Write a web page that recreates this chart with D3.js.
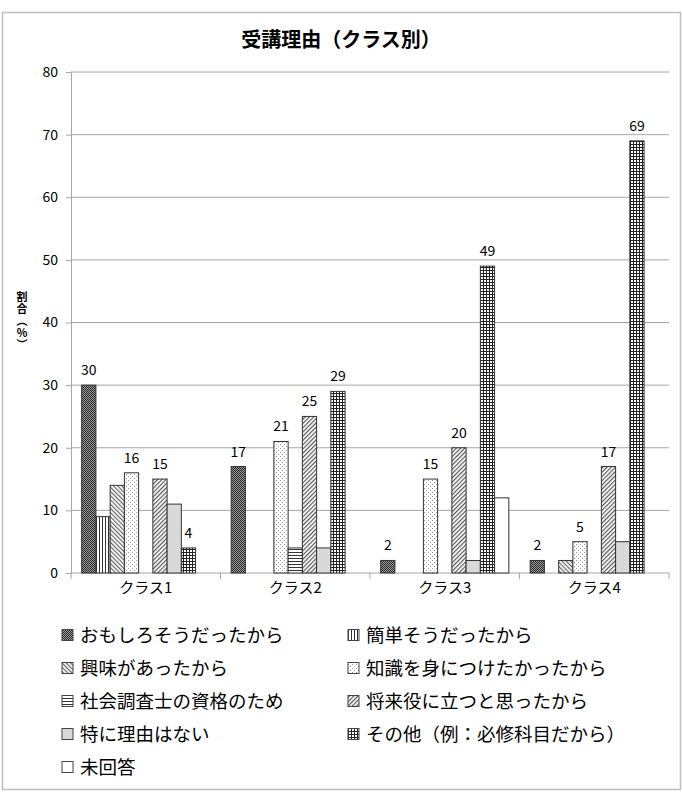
<!DOCTYPE html>
<html>
<head>
<meta charset="utf-8">
<script src="https://cdn.jsdelivr.net/npm/d3@7"></script>
<style>
  body { margin: 0; background: #fff; }
  text { font-family: "Noto Sans CJK JP", "Noto Sans", sans-serif; }
</style>
</head>
<body>
<div id="container"></div>
<script>
/* CONSTANTS AND GLOBALS */
const width = 682,
  height = 796,
  margin = { top: 72, bottom: 223, left: 71, right: 13 };

/* DATA */
const classes = ["クラス1", "クラス2", "クラス3", "クラス4"];
const reasons = [
  "おもしろそうだったから", "簡単そうだったから", "興味があったから",
  "知識を身につけたかったから", "社会調査士の資格のため", "将来役に立つと思ったから",
  "特に理由はない", "その他（例：必修科目だから）", "未回答"
];
const omoshiro = [30, 17, 2, 2];
const kantan = [9, 0, 0, 0];
const kyoumi = [14, 0, 0, 2];
const chishiki = [16, 21, 15, 5];
const shakai = [0, 4, 0, 0];
const shourai = [15, 25, 20, 17];
const tokuni = [11, 4, 2, 5];
const sonota = [4, 29, 49, 69];
const mikaitou = [0, 0, 12, 0];
const seriesValues = [omoshiro, kantan, kyoumi, chishiki, shakai, shourai, tokuni, sonota, mikaitou];
const labelled = [0, 3, 5, 7]; // series that carry data labels
const yTicks = [0, 10, 20, 30, 40, 50, 60, 70, 80];

const data = [];
classes.forEach((c, ci) => {
  seriesValues.forEach((vals, si) => {
    data.push({ cls: c, series: si, value: vals[ci] });
  });
});

/* SVG */
const svg = d3.select("#container")
  .append("svg")
  .attr("width", width)
  .attr("height", height);

// patterns
const defs = svg.append("defs");
function pat(id, w, h, rot) {
  const p = defs.append("pattern")
    .attr("id", id)
    .attr("patternUnits", "userSpaceOnUse")
    .attr("width", w).attr("height", h);
  if (rot) p.attr("patternTransform", `rotate(${rot})`);
  return p;
}
let p = pat("p0", 2, 2);
p.append("rect").attr("width", 2).attr("height", 2).attr("fill", "#9a9a9a");
p.append("rect").attr("width", 1).attr("height", 1).attr("fill", "#2a2a2a");
p.append("rect").attr("x", 1).attr("y", 1).attr("width", 1).attr("height", 1).attr("fill", "#2a2a2a");

p = pat("p1", 3, 3);
p.append("rect").attr("width", 3).attr("height", 3).attr("fill", "#fff");
p.append("rect").attr("width", 1).attr("height", 3).attr("fill", "#333");

p = pat("p2", 3, 3, -45);
p.append("rect").attr("width", 3).attr("height", 3).attr("fill", "#fff");
p.append("rect").attr("width", 1.2).attr("height", 3).attr("fill", "#666");

p = pat("p3", 4, 4);
p.append("rect").attr("width", 4).attr("height", 4).attr("fill", "#fff");
p.append("rect").attr("width", 1).attr("height", 1).attr("fill", "#999");
p.append("rect").attr("x", 2).attr("y", 2).attr("width", 1).attr("height", 1).attr("fill", "#999");

p = pat("p4", 3, 3);
p.append("rect").attr("width", 3).attr("height", 3).attr("fill", "#fff");
p.append("rect").attr("width", 3).attr("height", 1).attr("fill", "#333");

p = pat("p5", 3, 3, 45);
p.append("rect").attr("width", 3).attr("height", 3).attr("fill", "#fff");
p.append("rect").attr("width", 1.2).attr("height", 3).attr("fill", "#555");

p = pat("p7", 3, 3);
p.append("rect").attr("width", 3).attr("height", 3).attr("fill", "#fff");
p.append("rect").attr("width", 1).attr("height", 3).attr("fill", "#222");
p.append("rect").attr("width", 3).attr("height", 1).attr("fill", "#222");

const fills = ["url(#p0)", "url(#p1)", "url(#p2)", "url(#p3)", "url(#p4)", "url(#p5)", "#d9d9d9", "url(#p7)", "#fff"];

// outer frame
svg.append("rect")
  .attr("x", 2.5).attr("y", 12.5)
  .attr("width", 678).attr("height", 777)
  .attr("fill", "#fff")
  .attr("stroke", "#bfbfbf")
  .attr("stroke-width", 1.5);

/* SCALES */
const yScale = d3.scaleLinear()
  .domain([0, 80])
  .range([height - margin.bottom, margin.top]);

const xScale = d3.scaleBand()
  .domain(classes)
  .range([margin.left, width - margin.right]);

const barW = xScale.bandwidth() / 10.5;
const xInner = d3.scaleBand()
  .domain(d3.range(reasons.length))
  .range([barW * 0.75, xScale.bandwidth() - barW * 0.75]);

// gridlines
svg.append("g")
  .selectAll("line")
  .data(yTicks.slice(1))
  .join("line")
  .attr("x1", margin.left).attr("x2", width - margin.right)
  .attr("y1", d => yScale(d)).attr("y2", d => yScale(d))
  .attr("stroke", "#a6a6a6");

// axes
const yAxis = svg.append("g")
  .attr("transform", `translate(${margin.left},0)`)
  .call(d3.axisLeft(yScale).tickValues(yTicks).tickSize(5).tickPadding(8));
yAxis.selectAll("line, path").attr("stroke", "#a6a6a6");
yAxis.selectAll("text").attr("font-family", "'Noto Sans', sans-serif").attr("font-size", 14).attr("fill", "#000");

const xAxis = svg.append("g")
  .attr("transform", `translate(0,${yScale(0)})`)
  .call(d3.axisBottom(xScale).tickSize(0).tickPadding(9));
xAxis.select("path").remove();
xAxis.selectAll("text").attr("font-size", 15).attr("fill", "#000");
svg.append("g")
  .selectAll("line")
  .data([margin.left, ...classes.map(c => xScale(c) + xScale.bandwidth())])
  .join("line")
  .attr("x1", d => d).attr("x2", d => d)
  .attr("y1", yScale(0)).attr("y2", yScale(0) + 6)
  .attr("stroke", "#a6a6a6");
svg.append("line")
  .attr("x1", margin.left).attr("x2", width - margin.right)
  .attr("y1", yScale(0)).attr("y2", yScale(0))
  .attr("stroke", "#a6a6a6");

// bars
svg.append("g")
  .selectAll("rect")
  .data(data.filter(d => d.value > 0))
  .join("rect")
  .attr("x", d => xScale(d.cls) + xInner(d.series))
  .attr("y", d => yScale(d.value))
  .attr("width", xInner.bandwidth())
  .attr("height", d => yScale(0) - yScale(d.value))
  .attr("fill", d => fills[d.series])
  .attr("stroke", "#333")
  .attr("stroke-width", 1);

// data labels
svg.append("g")
  .selectAll("text")
  .data(data.filter(d => d.value > 0 && labelled.includes(d.series)))
  .join("text")
  .attr("x", d => xScale(d.cls) + xInner(d.series) + xInner.bandwidth() / 2)
  .attr("y", d => yScale(d.value) - 10)
  .attr("text-anchor", "middle")
  .attr("font-family", "'Noto Sans', sans-serif")
  .attr("font-size", 14)
  .text(d => d.value);

// title
svg.append("text")
  .attr("x", 341).attr("y", 47)
  .attr("text-anchor", "middle")
  .attr("font-size", 20)
  .attr("font-weight", "bold")
  .text("受講理由（クラス別）");

// y axis title, vertical writing
svg.append("text")
  .attr("x", 22)
  .attr("y", 321)
  .attr("text-anchor", "middle")
  .style("writing-mode", "vertical-rl")
  .style("text-orientation", "upright")
  .attr("font-size", 11)
  .attr("font-weight", "bold")
  .attr("letter-spacing", 1)
  .text("割合（%）");

// legend
const legend = svg.append("g")
  .selectAll("g")
  .data(reasons)
  .join("g")
  .attr("transform", (d, i) => `translate(${i % 2 === 0 ? 62 : 348},${635 + Math.floor(i / 2) * 33})`);
legend.append("rect")
  .attr("x", 0).attr("y", -5.5)
  .attr("width", 11).attr("height", 11)
  .attr("fill", (d, i) => fills[i])
  .attr("stroke", "#444");
legend.append("text")
  .attr("x", 18)
  .attr("y", 0)
  .attr("dy", "0.36em")
  .attr("font-size", 18.5)
  .text(d => d);
</script>
</body>
</html>
